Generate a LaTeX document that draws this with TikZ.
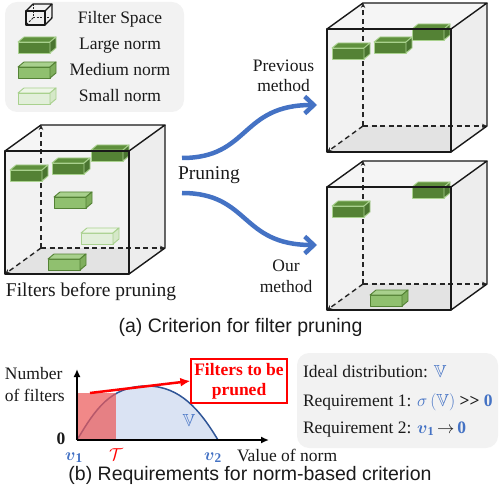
\documentclass[tikz,border=0pt]{standalone}
\usepackage{amsmath,amssymb}
\usepackage{fontspec}
\setmainfont{Liberation Serif}
\newfontfamily\capfont{Liberation Sans}
\usetikzlibrary{arrows.meta}

\definecolor{bluearrow}{HTML}{4472C4}
\definecolor{curveblue}{HTML}{2F5597}
\definecolor{areablue}{HTML}{DAE3F3}
\definecolor{panelgray}{HTML}{F2F2F2}
\definecolor{textdark}{HTML}{1A1A1A}
\definecolor{redfill}{HTML}{EB5A5A}
\definecolor{LF}{HTML}{548235}
\definecolor{LT}{HTML}{5F903D}
\definecolor{LS}{HTML}{4A7530}
\definecolor{LE}{HTML}{A9D18E}
\definecolor{MF}{HTML}{90C06F}
\definecolor{MT}{HTML}{A8D08D}
\definecolor{MS}{HTML}{7FAE5D}
\definecolor{ME}{HTML}{548235}
\definecolor{SF}{HTML}{E2EFDA}
\definecolor{ST}{HTML}{EDF5E7}
\definecolor{SS}{HTML}{D5E8C8}
\definecolor{SE}{HTML}{A9D18E}

\tikzset{
  Lbox/.style={draw=LE, line width=0.9pt, line join=round},
  Mbox/.style={draw=ME, line width=0.9pt, line join=round},
  Sbox/.style={draw=SE, line width=0.9pt, line join=round},
  cubefront/.style={fill=black!5},
  cubetop/.style={fill=black!4},
  cubefloor/.style={fill=black!11},
  cubeside/.style={fill=black!7},
  cubeedge/.style={draw=black!90, line width=1.4pt, line join=round},
  axisdash/.style={draw=black!85, line width=1.4pt, dash pattern=on 5pt off 3.5pt, -{Stealth[length=5pt,width=4.5pt]}},
  lbl/.style={font=\fontsize{17.5}{21}\selectfont, text=textdark, inner sep=0pt, outer sep=0pt},
  biglbl/.style={font=\fontsize{19.5}{23}\selectfont, text=textdark, inner sep=0pt, outer sep=0pt},
  caption/.style={font=\capfont\fontsize{19.5}{23}\selectfont, text=textdark, inner sep=0pt, outer sep=0pt},
  prunearrow/.style={draw=bluearrow, line width=4.5pt, -{Straight Barb[length=9pt,width=17pt]}},
  panel/.style={fill=panelgray, rounded corners=12pt},
}

% cube: #1,#2 = top-left of the front face
\newcommand{\cubeback}[2]{%
  \fill[cubefront] (#1,#2) rectangle (#1+124,#2+123);
  \fill[cubetop] (#1,#2) -- (#1+36,#2-26) -- (#1+160,#2-26) -- (#1+124,#2) -- cycle;
  \fill[cubefloor] (#1,#2+123) -- (#1+36,#2+97) -- (#1+160,#2+97) -- (#1+124,#2+123) -- cycle;
  \fill[cubeside] (#1+124,#2) -- (#1+160,#2-26) -- (#1+160,#2+97) -- (#1+124,#2+123) -- cycle;
  \draw[axisdash] (#1+36,#2+97) -- (#1+36,#2-26);
  \draw[axisdash] (#1+36,#2+97) -- (#1+160,#2+97);
  \draw[axisdash] (#1+36,#2+97) -- (#1,#2+123);
}
\newcommand{\cubeedges}[2]{%
  \draw[cubeedge] (#1,#2) rectangle (#1+124,#2+123);
  \draw[cubeedge] (#1,#2) -- (#1+36,#2-26) -- (#1+160,#2-26) -- (#1+124,#2);
  \draw[cubeedge] (#1+160,#2-26) -- (#1+160,#2+97) -- (#1+124,#2+123);
}
% filter box: #1,#2 = top-left of bounding box, #3 = L / M / S
\newcommand{\normbox}[3]{%
  \filldraw[#3box, fill=#3F] (#1,#2+5) rectangle (#1+32,#2+16);
  \filldraw[#3box, fill=#3T] (#1,#2+5) -- (#1+6,#2) -- (#1+38,#2) -- (#1+32,#2+5) -- cycle;
  \filldraw[#3box, fill=#3S] (#1+32,#2+5) -- (#1+38,#2) -- (#1+38,#2+11) -- (#1+32,#2+16) -- cycle;
}

\begin{document}
\begin{tikzpicture}[x=1pt,y=-1pt]
\useasboundingbox (0,0) rectangle (500,502);

% ---------------- legend ----------------
\fill[panel] (5,2) rectangle (184,112);
\fill[black!6] (26,11) rectangle (45,25);
\draw[black!85, line width=1pt, dash pattern=on 2pt off 1.5pt] (33,4) -- (33,18) -- (52,18);
\draw[black!85, line width=1pt, dash pattern=on 2pt off 1.5pt] (33,18) -- (26,25);
\draw[black!90, line width=1.1pt, line join=round] (26,11) rectangle (45,25);
\draw[black!90, line width=1.1pt, line join=round] (26,11) -- (33,4) -- (52,4) -- (45,11);
\draw[black!90, line width=1.1pt, line join=round] (52,4) -- (52,18) -- (45,25);
\normbox{18}{37}{L}
\normbox{18}{62}{M}
\normbox{18}{88}{S}
\node[lbl, anchor=base] (lgspace) at (120,24) {Filter Space};
\node[lbl, anchor=base] (lglarge) at (120,50) {Large norm};
\node[lbl, anchor=base] (lgmedium) at (120,76) {Medium norm};
\node[lbl, anchor=base] (lgsmall) at (120,102) {Small norm};

% ---------------- left cube ----------------
\cubeback{5}{151}
\normbox{10}{165}{L}
\normbox{52}{158}{L}
\normbox{91}{145}{L}
\normbox{54}{192}{M}
\normbox{81}{228}{S}
\normbox{48}{254}{M}
\cubeedges{5}{151}
\node[biglbl, anchor=base] (before) at (91,296) {Filters before pruning};

% ---------------- top right cube ----------------
\cubeback{327}{29}
\normbox{332}{43}{L}
\normbox{374}{37}{L}
\normbox{412}{24}{L}
\cubeedges{327}{29}

% ---------------- bottom right cube ----------------
\cubeback{327}{187}
\normbox{332}{201}{L}
\normbox{412}{182}{L}
\normbox{370}{290}{M}
\cubeedges{327}{187}

% ---------------- pruning arrows ----------------
\node[biglbl, anchor=base] (pruning) at (209,180) {Pruning};
\coordinate (upstart) at (182,158);
\coordinate (upend) at (317,105);
\coordinate (dnstart) at (182,193);
\coordinate (dnend) at (317,245);
\draw[prunearrow] (upstart) .. controls (250,158) and (240,105) .. (upend);
\draw[prunearrow] (dnstart) .. controls (250,193) and (240,245) .. (dnend);
\node[lbl, anchor=base, align=center] (prev) at (283.5,92) {Previous\\[-0.5pt]method};
\node[lbl, anchor=base, align=center] (ours) at (286,292) {Our\\[-0.5pt]method};

\node[caption, anchor=base] (capa) at (240.5,332) {(a) Criterion for filter pruning};

% ---------------- part (b): plot ----------------
\fill[areablue] (77,440) .. controls (95,410) and (110,386) .. (147,386)
   .. controls (180,386) and (200,410) .. (218,440) -- cycle;
\draw[curveblue, line width=1.5pt] (77,440) .. controls (95,410) and (110,386) .. (147,386)
   .. controls (180,386) and (200,410) .. (218,440);
\fill[redfill, opacity=0.72] (77,393) rectangle (116,440);
\coordinate (origin) at (77,440);
\coordinate (ytop) at (77,369);
\coordinate (xend) at (269,440);
\draw[black, line width=2pt, -{Latex[length=8pt,width=7pt]}] (origin) -- (ytop);
\draw[black, line width=2pt, -{Latex[length=8pt,width=7pt]}] (origin) -- (xend);

\node[lbl, anchor=base west, align=left] (ylab) at (5,401) {Number\\[0.5pt]of filters};
\node[lbl, anchor=base] (zero) at (61,444) {\textbf{0}};
\node[lbl, anchor=base, text=bluearrow] (vlab) at (189,426) {$\mathbb{V}$};
\node[font=\fontsize{19}{22}\selectfont, inner sep=0pt, anchor=base, text=bluearrow] (v1) at (74,460) {$\boldsymbol{v}_{\mathbf{1}}$};
\node[font=\fontsize{19}{22}\selectfont, inner sep=0pt, anchor=base, text=red] (tau) at (116,460) {$\mathcal{T}$};
\node[font=\fontsize{19}{22}\selectfont, inner sep=0pt, anchor=base, text=bluearrow] (v2) at (213,460) {$\boldsymbol{v}_{\mathbf{2}}$};
\node[lbl, anchor=base west] (xlab) at (237,461) {Value of norm};

\node[draw=red, line width=1.3pt, fill=white, minimum width=96pt, minimum height=44pt,
      inner sep=0pt, align=center, text=red,
      font=\bfseries\fontsize{17.5}{20}\selectfont] (prunedbox) at (239,381) {Filters to be\\pruned};
\coordinate (redstart) at (90,393);
\draw[red, line width=2.5pt, -{Latex[length=10pt,width=9pt]}] (redstart) -- (prunedbox.west);

% ---------------- part (b): requirements ----------------
\fill[panel] (297,353) rectangle (498,448);
\node[lbl, anchor=base west] (ideal) at (303,377) {Ideal distribution: \textcolor{bluearrow}{$\mathbb{V}$}};
\node[lbl, anchor=base west] (req1) at (303,406) {Requirement 1: \textcolor{bluearrow}{$\sigma\,(\mathbb{V})$} \textbf{>{}>} \textcolor{bluearrow}{\textbf{0}}};
\node[lbl, anchor=base west] (req2) at (303,433) {Requirement 2: \textcolor{bluearrow}{$\boldsymbol{v}_{\mathbf{1}}$}\,$\rightarrow$\,\textcolor{bluearrow}{\textbf{0}}};

\node[caption, anchor=base] (capb) at (250,480) {(b) Requirements for norm-based criterion};
\end{tikzpicture}
\end{document}
